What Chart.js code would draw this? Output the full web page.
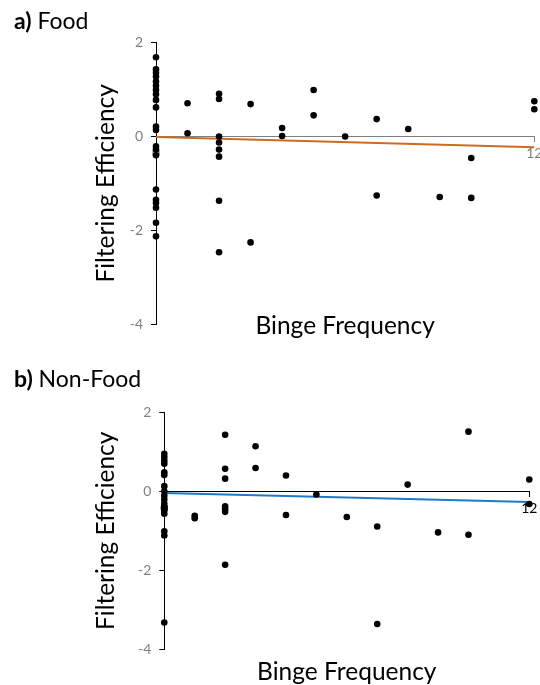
<!DOCTYPE html>
<html>
<head>
<meta charset="utf-8">
<script src="https://cdn.jsdelivr.net/npm/chart.js@4.4.0/dist/chart.umd.min.js"></script>
<style>
  body { margin: 0; width: 540px; height: 685px; overflow: hidden; background: #fff; position: relative; font-family: Lato, "Open Sans", sans-serif; }
  canvas { position: absolute; left: 0; }
  .head { position: absolute; left: 14px; font-size: 23px; color: #000; line-height: 28px; }
</style>
</head>
<body>
<canvas id="foodChart" width="560" height="342" style="top:0"></canvas>
<canvas id="nonFoodChart" width="560" height="343" style="top:342px"></canvas>
<div class="head" style="top:6px"><b>a)</b> Food</div>
<div class="head" style="top:364px"><b>b)</b> Non-Food</div>
<script>
// binge frequency / filtering efficiency
var foodX = [0, 0, 0, 0, 0, 0, 0, 0, 0, 0, 0, 0, 0, 0, 0, 0, 0, 0, 0, 0, 0,
  1, 1, 2, 2, 2, 2, 2, 2, 2, 2, 3, 3, 4, 4, 5, 5, 6, 7, 7, 8, 9, 10, 10, 12, 12];
var foodY = [1.69, 1.43, 1.36, 1.28, 1.17, 1.08, 0.99, 0.90, 0.78, 0.62, 0.21, 0.14, -0.21, -0.28, -0.40, -1.13, -1.35, -1.42, -1.52, -1.84, -2.13,
  0.71, 0.07, 0.91, 0.80, 0.0, -0.13, -0.28, -0.43, -1.37, -2.47, 0.69, -2.26, 0.18, 0.01, 0.99, 0.45, 0.0, 0.37, -1.26, 0.16, -1.29, -0.46, -1.31, 0.75, 0.58];

var nonFoodX = [0, 0, 0, 0, 0, 0, 0, 0, 0, 0, 0, 0, 0, 0, 0, 0, 0,
  1, 1, 2, 2, 2, 2, 2, 2, 2, 3, 3, 4, 4, 5, 6, 7, 7, 8, 9, 10, 10, 12, 12];
var nonFoodY = [0.95, 0.87, 0.78, 0.70, 0.48, 0.41, 0.13, 0.0, -0.11, -0.21, -0.31, -0.40, -0.48, -0.57, -1.01, -1.12, -3.32,
  -0.62, -0.68, 1.43, 0.57, 0.32, -0.38, -0.45, -0.52, -1.86, 1.14, 0.59, 0.40, -0.60, -0.08, -0.65, -0.89, -3.36, 0.17, -1.04, 1.51, -1.10, 0.30, -0.32];

// linear trend lines, value at x = 0 and x = 12
var fitX = [0, 12];
var foodFit = [-0.01, -0.23];
var nonFoodFit = [-0.04, -0.27];

var xTicks = [0, 12];
var yTicks = [-4, -2, 0, 2];

var FONT = 'Lato';
var TICK_SIZE = 14;
var TITLE_SIZE = 24.5;
var TITLE_LH = TITLE_SIZE * 1.2;

function toPoints(xs, ys) {
  return xs.map(function (x, i) { return { x: x, y: ys[i] }; });
}

function setTicks(list) {
  return function (scale) {
    scale.ticks = list.map(function (v) { return { value: v }; });
  };
}

function makeChart(id, xs, ys, fit, o) {
  return new Chart(document.getElementById(id), {
    type: 'scatter',
    data: {
      datasets: [{
        data: toPoints(xs, ys),
        xAxisID: 'x',
        yAxisID: 'y',
        clip: false,
        backgroundColor: '#000',
        borderColor: '#000',
        borderWidth: 0,
        pointRadius: 3.3,
        pointHoverRadius: 3.3
      }, {
        type: 'line',
        data: toPoints(fitX, fit),
        xAxisID: 'x',
        yAxisID: 'y',
        clip: false,
        borderColor: o.fitColor,
        borderWidth: 2,
        pointRadius: 0,
        fill: false
      }]
    },
    options: {
      responsive: false,
      animation: false,
      events: [],
      layout: { padding: { left: 0, top: o.top, right: o.right, bottom: o.bottom } },
      plugins: { legend: { display: false }, tooltip: { enabled: false } },
      scales: {
        x: {
          type: 'linear',
          position: { y: 0 },
          min: 0,
          max: 12,
          afterBuildTicks: setTicks(xTicks),
          ticks: { color: o.xColor, font: { family: FONT, size: TICK_SIZE }, padding: 4, maxRotation: 0, autoSkip: false },
          grid: { drawOnChartArea: false, drawTicks: true, tickLength: 5, color: o.xColor },
          border: { color: o.xColor, width: 1 }
        },
        y: {
          type: 'linear',
          position: 'left',
          min: -4,
          max: 2,
          afterBuildTicks: setTicks(yTicks),
          afterFit: function (scale) { scale.width = o.left; },
          ticks: { color: '#7f7f7f', font: { family: FONT, size: TICK_SIZE }, padding: 8 },
          grid: { drawOnChartArea: false, drawTicks: true, tickLength: 5, color: '#000' },
          border: { color: '#000', width: 1 },
          title: {
            display: true,
            text: 'Filtering Efficiency',
            color: '#000',
            font: { family: FONT, size: TITLE_SIZE },
            padding: { top: 106 - TITLE_LH / 2, bottom: 0 }
          }
        },
        xTitle: {
          type: 'linear',
          position: 'bottom',
          display: true,
          grid: { display: false, drawTicks: false },
          border: { display: false },
          ticks: { display: false },
          title: {
            display: true,
            text: 'Binge Frequency',
            color: '#000',
            font: { family: FONT, size: TITLE_SIZE },
            // zero-height box; title centred o.titleDrop px under the plot
            padding: { top: -TITLE_LH / 2 + o.titleDrop, bottom: -TITLE_LH / 2 - o.titleDrop }
          }
        }
      }
    }
  });
}

var foodChart = makeChart('foodChart', foodX, foodY, foodFit, {
  fitColor: '#CF6A22', xColor: '#7f7f7f',
  left: 156, top: 42.7, right: 25.7, bottom: 18, titleDrop: 2
});

var nonFoodChart = makeChart('nonFoodChart', nonFoodX, nonFoodY, nonFoodFit, {
  fitColor: '#1F78C8', xColor: '#000',
  left: 164.3, top: 70.3, right: 30.7, bottom: 35.7, titleDrop: 22.4
});
</script>
</body>
</html>
